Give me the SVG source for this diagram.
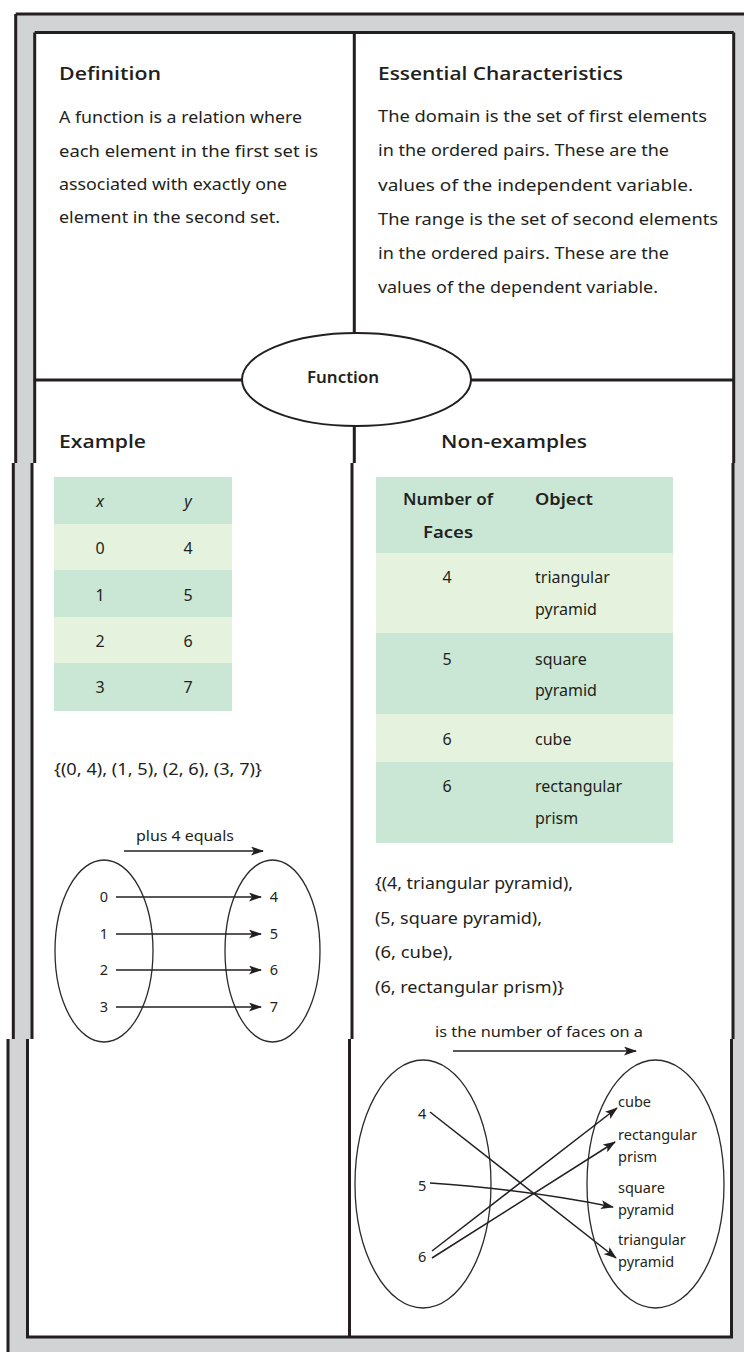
<svg xmlns="http://www.w3.org/2000/svg" width="744" height="1352" viewBox="0 0 744 1352">
<style>
.hd{font-family:"Open Sans","Liberation Sans",sans-serif;font-weight:600;font-size:18px;fill:#231f20}
.bd{font-family:"Noto Sans","Liberation Sans",sans-serif;font-size:16px;fill:#231f20}
.sm{font-family:"Noto Sans","Liberation Sans",sans-serif;font-size:14.5px;fill:#231f20}
.mid{text-anchor:middle}
.frame{stroke:#231f20;stroke-width:3;fill:none}
.thin{stroke:#2b2b2b;stroke-width:1.3;fill:none}
.arr{stroke:#231f20;stroke-width:1.5;fill:none;marker-end:url(#ah)}
.dk{fill:#c9e7d4}
.lt{fill:#e5f3de}
.gray{fill:#d1d3d4}
</style>
<defs>
<marker id="ah" markerUnits="userSpaceOnUse" markerWidth="13" markerHeight="9" refX="12" refY="4.5" orient="auto">
<path d="M0,0 L13,4.5 L0,9 L3,4.5 Z" fill="#231f20"/>
</marker>
</defs>
<rect width="744" height="1352" fill="#ffffff"/>
<g id="frame">
<rect class="gray" x="15.7" y="14" width="728.3" height="449"/>
<rect class="gray" x="13.3" y="463" width="730.7" height="576"/>
<rect class="gray" x="8" y="1039" width="736" height="313"/>
<rect fill="#fff" x="34.7" y="32.5" width="699" height="430.5"/>
<rect fill="#fff" x="32" y="463" width="701" height="576"/>
<rect fill="#fff" x="27.5" y="1039" width="704" height="298"/>
<path class="frame" d="M15.7,14 H744 M15.7,14 V463 M13.3,463 V1039 M8,1039 V1352"/>
<path class="frame" d="M34.7,32.5 H733.7 M34.7,32.5 V463 M32,463 V1039 M27.5,1039 V1337 H731.5 V1039 M733,1039 V463 M733.7,463 V32.5"/>
<path class="frame" d="M354.3,32.5 V463 M352,463 V1039 M349.5,1039 V1337 M34.7,380 H733.7"/>
</g>
<g id="center">
<ellipse cx="356.5" cy="379.5" rx="114.5" ry="46.5" fill="#fff" stroke="#231f20" stroke-width="2"/>
<text class="bd mid" x="343" y="383" font-weight="600" textLength="72" lengthAdjust="spacingAndGlyphs">Function</text>
</g>
<g id="definition">
<text class="hd" x="59" y="80" textLength="102" lengthAdjust="spacingAndGlyphs">Definition</text>
<text class="bd" x="59" y="123" textLength="243" lengthAdjust="spacingAndGlyphs">A function is a relation where</text>
<text class="bd" x="59" y="157" textLength="259" lengthAdjust="spacingAndGlyphs">each element in the first set is</text>
<text class="bd" x="59" y="190" textLength="228" lengthAdjust="spacingAndGlyphs">associated with exactly one</text>
<text class="bd" x="59" y="223" textLength="221" lengthAdjust="spacingAndGlyphs">element in the second set.</text>
</g>
<g id="characteristics">
<text class="hd" x="378" y="80" textLength="245" lengthAdjust="spacingAndGlyphs">Essential Characteristics</text>
<text class="bd" x="378" y="122" textLength="329" lengthAdjust="spacingAndGlyphs">The domain is the set of first elements</text>
<text class="bd" x="378" y="156" textLength="291" lengthAdjust="spacingAndGlyphs">in the ordered pairs. These are the</text>
<text class="bd" x="378" y="191" textLength="315" lengthAdjust="spacingAndGlyphs">values of the independent variable.</text>
<text class="bd" x="378" y="225" textLength="340" lengthAdjust="spacingAndGlyphs">The range is the set of second elements</text>
<text class="bd" x="378" y="259" textLength="291" lengthAdjust="spacingAndGlyphs">in the ordered pairs. These are the</text>
<text class="bd" x="378" y="293" textLength="280" lengthAdjust="spacingAndGlyphs">values of the dependent variable.</text>
</g>
<g id="example">
<text class="hd" x="59" y="448" textLength="87" lengthAdjust="spacingAndGlyphs">Example</text>
<rect class="dk" x="54" y="477" width="178" height="47"/>
<rect class="lt" x="54" y="524" width="178" height="46"/>
<rect class="dk" x="54" y="570" width="178" height="47"/>
<rect class="lt" x="54" y="617" width="178" height="46"/>
<rect class="dk" x="54" y="663" width="178" height="48"/>
<text class="bd mid" x="100" y="507" font-style="italic">x</text>
<text class="bd mid" x="188" y="507" font-style="italic">y</text>
<text class="bd mid" x="100" y="554">0</text>
<text class="bd mid" x="188" y="554">4</text>
<text class="bd mid" x="100" y="601">1</text>
<text class="bd mid" x="188" y="601">5</text>
<text class="bd mid" x="100" y="647">2</text>
<text class="bd mid" x="188" y="647">6</text>
<text class="bd mid" x="100" y="693">3</text>
<text class="bd mid" x="188" y="693">7</text>
<text class="bd" x="54" y="775" textLength="208" lengthAdjust="spacingAndGlyphs">{(0, 4), (1, 5), (2, 6), (3, 7)}</text>
</g>
<g id="example-map">
<text class="sm" x="136" y="841" textLength="98" lengthAdjust="spacingAndGlyphs">plus 4 equals</text>
<ellipse class="thin" cx="104" cy="951" rx="49" ry="91"/>
<ellipse class="thin" cx="272.5" cy="951" rx="47.5" ry="91"/>
<text class="sm mid" x="104" y="902">0</text>
<text class="sm mid" x="104" y="939">1</text>
<text class="sm mid" x="104" y="975">2</text>
<text class="sm mid" x="104" y="1012">3</text>
<text class="sm mid" x="274" y="902">4</text>
<text class="sm mid" x="274" y="939">5</text>
<text class="sm mid" x="274" y="975">6</text>
<text class="sm mid" x="274" y="1012">7</text>
</g>
<g id="nonexamples">
<text class="hd" x="441" y="448" textLength="146" lengthAdjust="spacingAndGlyphs">Non-examples</text>
<rect class="dk" x="376" y="477" width="297" height="76"/>
<rect class="lt" x="376" y="553" width="297" height="80"/>
<rect class="dk" x="376" y="633" width="297" height="81"/>
<rect class="lt" x="376" y="714" width="297" height="48"/>
<rect class="dk" x="376" y="762" width="297" height="81"/>
<text class="bd" x="403" y="505" font-weight="600" textLength="90" lengthAdjust="spacingAndGlyphs">Number of</text>
<text class="bd" x="423" y="538" font-weight="600" textLength="50" lengthAdjust="spacingAndGlyphs">Faces</text>
<text class="bd" x="535" y="505" font-weight="600" textLength="58" lengthAdjust="spacingAndGlyphs">Object</text>
<text class="bd mid" x="447" y="583">4</text>
<text class="bd" x="535" y="583">triangular</text>
<text class="bd" x="535" y="615">pyramid</text>
<text class="bd mid" x="447" y="665">5</text>
<text class="bd" x="535" y="665">square</text>
<text class="bd" x="535" y="696">pyramid</text>
<text class="bd mid" x="447" y="745">6</text>
<text class="bd" x="535" y="745">cube</text>
<text class="bd mid" x="447" y="792">6</text>
<text class="bd" x="535" y="792">rectangular</text>
<text class="bd" x="535" y="824">prism</text>
<text class="bd" x="375" y="889" textLength="198" lengthAdjust="spacingAndGlyphs">{(4, triangular pyramid),</text>
<text class="bd" x="375" y="924" textLength="167" lengthAdjust="spacingAndGlyphs">(5, square pyramid),</text>
<text class="bd" x="375" y="958" textLength="78" lengthAdjust="spacingAndGlyphs">(6, cube),</text>
<text class="bd" x="375" y="993" textLength="189" lengthAdjust="spacingAndGlyphs">(6, rectangular prism)}</text>
</g>
<g id="nonexample-map">
<text class="sm" x="435" y="1037" textLength="208" lengthAdjust="spacingAndGlyphs">is the number of faces on a</text>
<ellipse class="thin" cx="423" cy="1184" rx="68" ry="124"/>
<ellipse class="thin" cx="655.5" cy="1184" rx="68.5" ry="124"/>
<text class="sm" x="418" y="1119">4</text>
<text class="sm" x="418" y="1191">5</text>
<text class="sm" x="418" y="1262">6</text>
<text class="sm" x="618" y="1107">cube</text>
<text class="sm" x="618" y="1140">rectangular</text>
<text class="sm" x="618" y="1162">prism</text>
<text class="sm" x="618" y="1193">square</text>
<text class="sm" x="618" y="1215">pyramid</text>
<text class="sm" x="618" y="1245">triangular</text>
<text class="sm" x="618" y="1267">pyramid</text>
</g>
<g id="connectors">
<path class="arr" d="M124,851 H263"/>
<path class="arr" d="M116,897 H261"/>
<path class="arr" d="M116,934 H261"/>
<path class="arr" d="M116,970 H261"/>
<path class="arr" d="M116,1007 H261"/>
<path class="arr" d="M453,1051 H636"/>
<path class="arr" d="M430,1112 L616,1258"/>
<path class="arr" d="M430,1183 Q530,1190 613,1207"/>
<path class="arr" d="M432,1251 L617,1108"/>
<path class="arr" d="M432,1258 L615,1142"/>
</g>
</svg>
